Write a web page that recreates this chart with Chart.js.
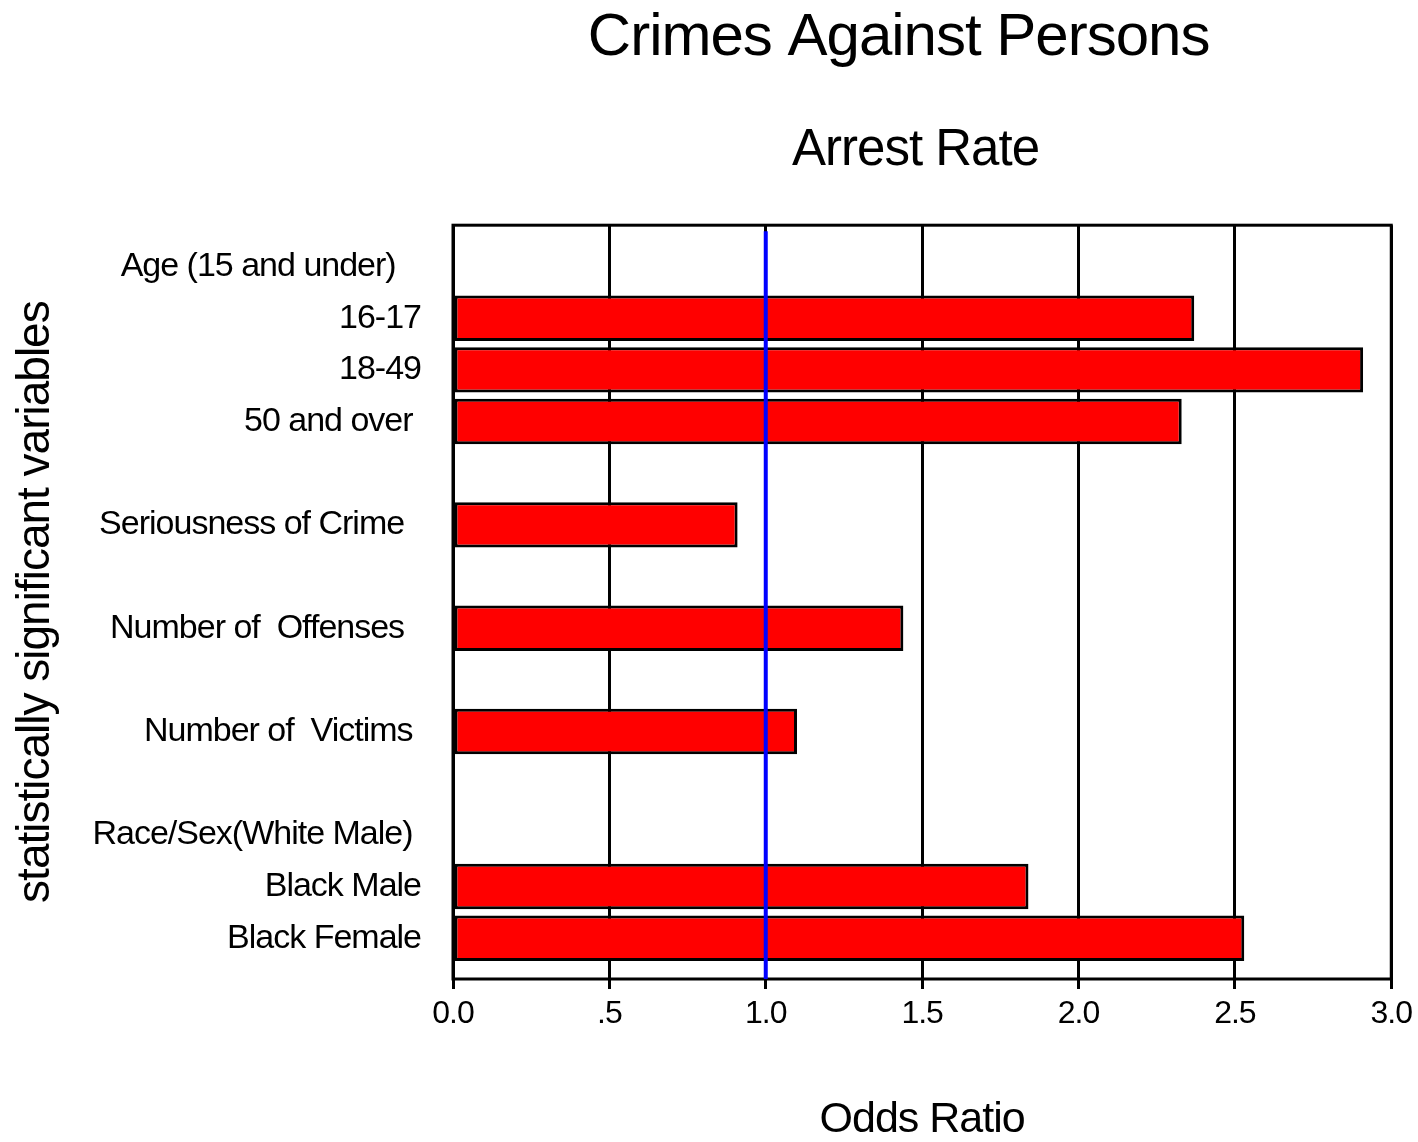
<!DOCTYPE html>
<html lang="en">
<head>
<meta charset="UTF-8" />
<title>Crimes Against Persons – Arrest Rate</title>
<script src="https://cdn.jsdelivr.net/npm/chart.js"></script>
<style>
  html, body { margin: 0; padding: 0; background: #fff; }
  #wrap { width: 1418px; height: 1142px; }
</style>
</head>
<body>
<div id="wrap"><canvas id="chart"></canvas></div>
<script>
// rows top to bottom, blank rows are spacers / group headers
const categories = [
  'Age (15 and under)', '16-17', '18-49', '50 and over', '',
  'Seriousness of Crime', '', 'Number of  Offenses', '', 'Number of  Victims', '',
  'Race/Sex(White Male)', 'Black Male', 'Black Female'
];
const oddsRatios = [null, 2.37, 2.91, 2.33, null, 0.91, null, 1.44, null, 1.10, null, null, 1.84, 2.53];
const xTickLabels = ['0.0', '.5', '1.0', '1.5', '2.0', '2.5', '3.0'];
const refLine = 1.0;

// small right-side nudges so labels sit like the original (in spaces)
const labelNudge = [3, 0, 0, 1, 0, 2, 0, 2, 0, 1, 0, 1, 0, 0];

const FONT = '"Liberation Sans", Arial, sans-serif';
Chart.defaults.font.family = FONT;
Chart.defaults.color = '#000';

// the original type is set a bit tight
const tightText = {
  id: 'tightText',
  beforeLayout(chart) { chart.ctx.letterSpacing = '-1px'; },
  beforeDraw(chart) { chart.ctx.letterSpacing = '-1px'; }
};

const frameAndRef = {
  id: 'frameAndRef',
  afterDraw(chart) {
    const { ctx, chartArea: a, scales } = chart;
    ctx.save();
    ctx.strokeStyle = '#000';
    ctx.lineWidth = 3;
    ctx.strokeRect(a.left, a.top, a.right - a.left, a.bottom - a.top);
    const x = scales.x.getPixelForValue(refLine);
    ctx.strokeStyle = '#0000ff';
    ctx.lineWidth = 4;
    ctx.beginPath();
    ctx.moveTo(x, a.top + 6);
    ctx.lineTo(x, a.bottom);
    ctx.stroke();
    ctx.restore();
  }
};

new Chart(document.getElementById('chart'), {
  type: 'bar',
  data: {
    datasets: [{
      data: oddsRatios.map((v, i) => ({ x: v, y: i })).filter(p => p.x !== null),
      backgroundColor: '#ff0000',
      borderColor: '#000',
      borderWidth: 3,
      borderSkipped: false,
      barPercentage: 0.88,
      categoryPercentage: 1
    }]
  },
  options: {
    indexAxis: 'y',
    responsive: true,
    maintainAspectRatio: false,
    animation: false,
    layout: { padding: { left: 0, right: 23, top: 0, bottom: 0 } },
    plugins: {
      legend: { display: false },
      tooltip: { enabled: false },
      title: {
        display: true,
        text: 'Crimes Against Persons   ',
        fullSize: false,
        color: '#000',
        font: { size: 60, weight: 'normal' },
        padding: { top: 2, bottom: 46 }
      },
      subtitle: {
        display: true,
        text: 'Arrest Rate ',
        fullSize: false,
        color: '#000',
        font: { size: 51, weight: 'normal' },
        padding: { top: 0, bottom: 44 }
      }
    },
    scales: {
      x: {
        type: 'linear',
        position: 'bottom',
        min: 0,
        max: 3,
        z: 1,
        border: { display: false },
        grid: { color: '#000', lineWidth: 3, tickLength: 10, drawTicks: true, tickColor: '#000' },
        ticks: {
          stepSize: 0.5,
          padding: 6,
          font: { size: 32 },
          color: '#000',
          callback: (v, i) => xTickLabels[i]
        },
        title: {
          display: true,
          text: 'Odds Ratio',
          color: '#000',
          font: { size: 43, lineHeight: 1 },
          padding: { top: 0, bottom: 0 }
        },
        afterFit: s => { s.height = 163; }
      },
      y: {
        type: 'linear',
        position: 'left',
        reverse: true,
        offset: false,
        min: -0.8,
        max: 13.79,
        grid: { display: false },
        border: { display: false },
        afterBuildTicks: s => { s.ticks = categories.map((_, i) => ({ value: i })); },
        ticks: {
          autoSkip: false,
          padding: 24,
          font: { size: 34 },
          color: '#000',
          callback: v => (categories[v] || '') + ' '.repeat(labelNudge[v] || 0)
        },
        title: {
          display: true,
          text: 'statistically significant variables',
          color: '#000',
          font: { size: 46, lineHeight: 1 },
          padding: { top: 13, bottom: 0 }
        },
        afterFit: s => { s.width = 453; }
      }
    }
  },
  plugins: [tightText, frameAndRef]
});
</script>
</body>
</html>
